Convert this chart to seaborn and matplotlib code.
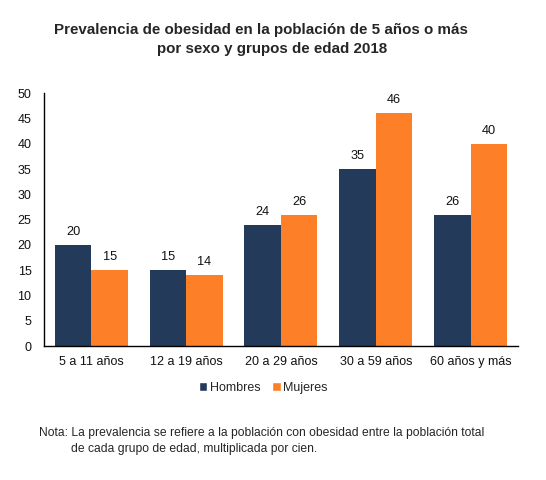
import matplotlib
matplotlib.use("Agg")
import matplotlib.pyplot as plt
import seaborn as sns
import pandas as pd
from matplotlib.patches import Patch

categories = ["5 a 11 años", "12 a 19 años", "20 a 29 años", "30 a 59 años", "60 años y más"]
hombres = [20, 15, 24, 35, 26]
mujeres = [15, 14, 26, 46, 40]
series = ["Hombres", "Mujeres"]
colors = ["#243A5A", "#FD7F28"]
yticks = [0, 5, 10, 15, 20, 25, 30, 35, 40, 45, 50]

df = pd.DataFrame({
    "grupo": categories * 2,
    "sexo": [series[0]] * len(categories) + [series[1]] * len(categories),
    "valor": hombres + mujeres,
})

sns.set_style("white")
plt.rcParams["font.family"] = ["Liberation Sans", "DejaVu Sans"]

fig = plt.figure(figsize=(5.46, 4.8), dpi=100)
ax = fig.add_axes([0.0806, 0.279, 0.868, 0.527])

sns.barplot(data=df, x="grupo", y="valor", hue="sexo", palette=colors,
            width=0.77, ax=ax, legend=False, saturation=1, edgecolor="none")

for cont in ax.containers:
    ax.bar_label(cont, labels=[f"{v:.0f}" for v in cont.datavalues],
                 padding=5, fontsize=9.2, color="#111111")

ax.set_ylim(0, 50)
ax.set_yticks(yticks)
ax.set_xlim(-0.5, len(categories) - 0.5)
ax.set_xlabel("")
ax.set_ylabel("")
ax.tick_params(axis="both", length=0, labelsize=9, colors="#111111")
ax.tick_params(axis="x", pad=7)
ax.tick_params(axis="y", pad=9)
sns.despine(ax=ax)
ax.spines["left"].set_color("black")
ax.spines["bottom"].set_color("black")
ax.spines["left"].set_linewidth(1.0)
ax.spines["bottom"].set_linewidth(1.0)

fig.text(0.478, 0.937, "Prevalencia de obesidad en la población de 5 años o más",
         ha="center", va="center", fontsize=10.9, fontweight="bold")
fig.text(0.498, 0.897, "por sexo y grupos de edad 2018",
         ha="center", va="center", fontsize=10.9, fontweight="bold")

handles = [Patch(facecolor=c, label=s) for c, s in zip(colors, series)]
fig.legend(handles=handles, loc="center", bbox_to_anchor=(0.482, 0.192), ncol=2,
           frameon=False, fontsize=9, handlelength=0.7, handleheight=0.7,
           handletextpad=0.2, columnspacing=0.9)

fig.text(0.071, 0.097, "Nota: La prevalencia se refiere a la población con obesidad entre la población total",
         ha="left", va="center", fontsize=8.7)
fig.text(0.130, 0.065, "de cada grupo de edad, multiplicada por cien.",
         ha="left", va="center", fontsize=8.7)

fig.savefig("out.png", dpi=100)
